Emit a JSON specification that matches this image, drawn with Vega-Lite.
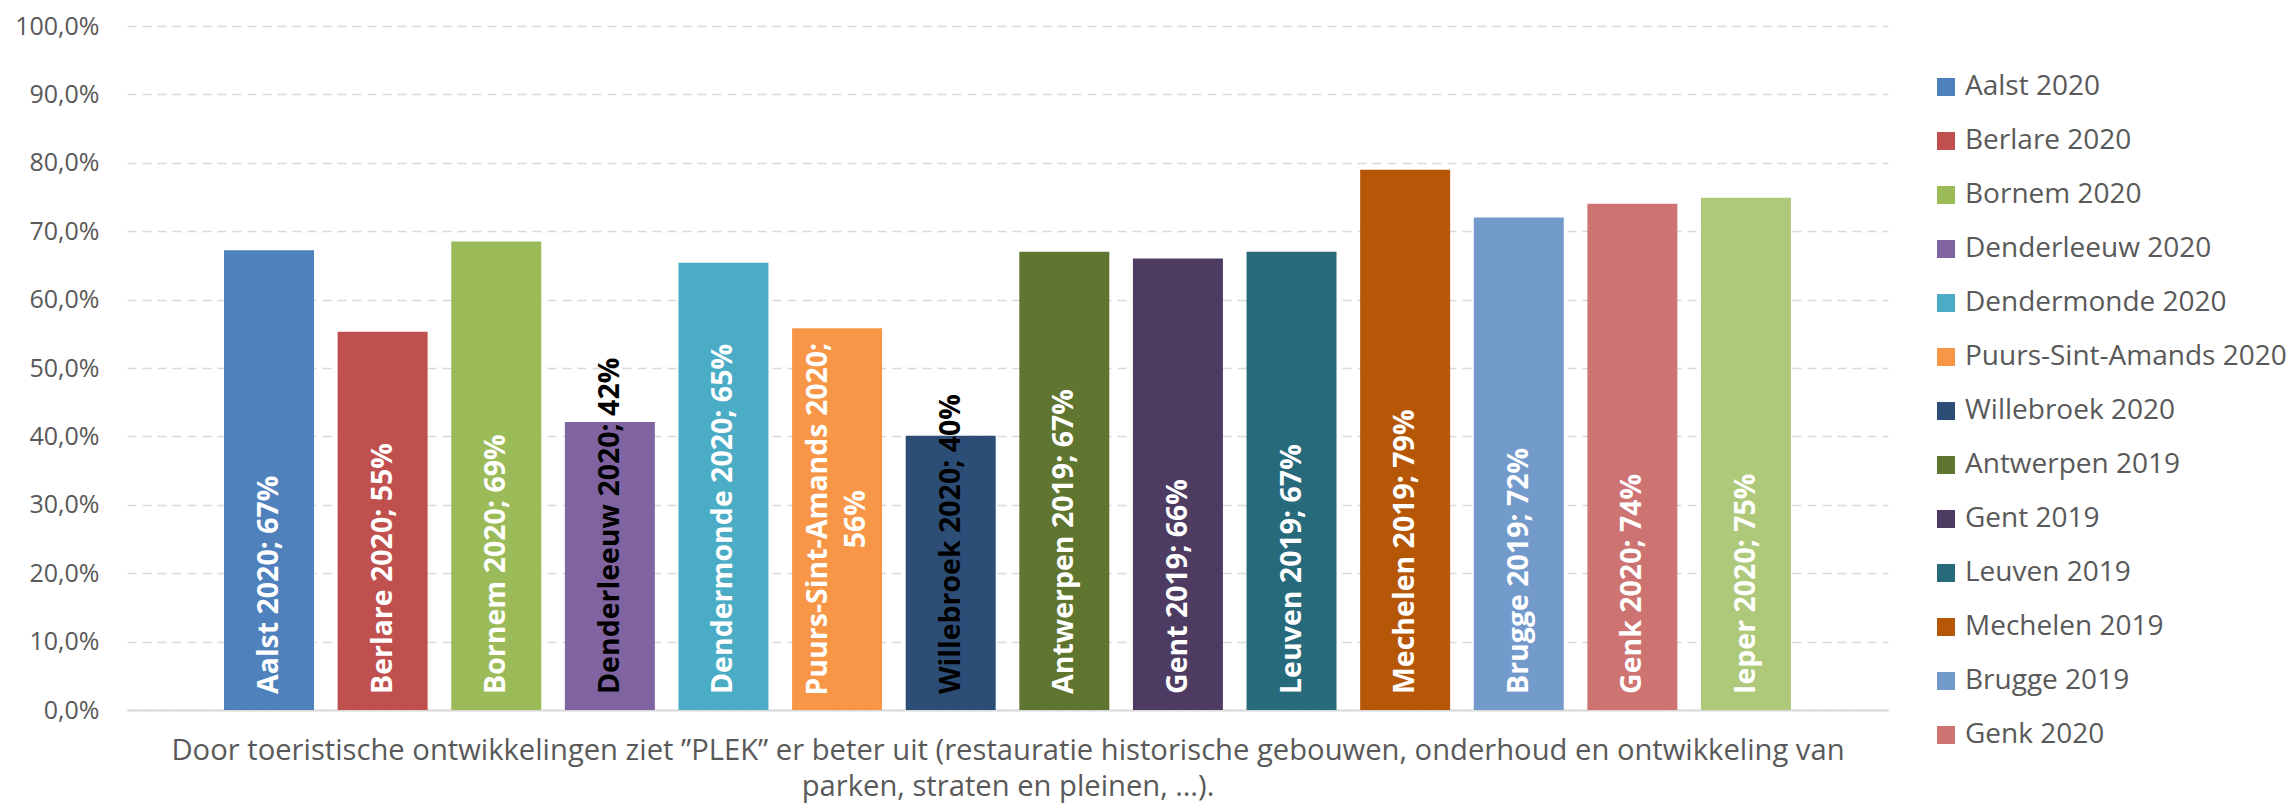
{
  "$schema": "https://vega.github.io/schema/vega-lite/v6.json",
  "width": 1761,
  "height": 684,
  "autosize": {"type": "none"},
  "padding": {"left": 127, "top": 26, "right": 405, "bottom": 95},
  "background": "white",
  "config": {"view": {"stroke": null}},
  "data": {
    "values": [
      {"name": "Aalst 2020", "value": 0.672, "label": "Aalst 2020; 67%"},
      {"name": "Berlare 2020", "value": 0.553, "label": "Berlare 2020; 55%"},
      {"name": "Bornem 2020", "value": 0.685, "label": "Bornem 2020; 69%"},
      {"name": "Denderleeuw 2020", "value": 0.421, "label": "Denderleeuw 2020; 42%"},
      {"name": "Dendermonde 2020", "value": 0.654, "label": "Dendermonde 2020; 65%"},
      {"name": "Puurs-Sint-Amands 2020", "value": 0.558, "label": "Puurs-Sint-Amands 2020;\n56%"},
      {"name": "Willebroek 2020", "value": 0.401, "label": "Willebroek 2020; 40%"},
      {"name": "Antwerpen 2019", "value": 0.670, "label": "Antwerpen 2019; 67%"},
      {"name": "Gent 2019", "value": 0.660, "label": "Gent 2019; 66%"},
      {"name": "Leuven 2019", "value": 0.670, "label": "Leuven 2019; 67%"},
      {"name": "Mechelen 2019", "value": 0.790, "label": "Mechelen 2019; 79%"},
      {"name": "Brugge 2019", "value": 0.720, "label": "Brugge 2019; 72%"},
      {"name": "Genk 2020", "value": 0.740, "label": "Genk 2020; 74%"},
      {"name": "Ieper 2020", "value": 0.749, "label": "Ieper 2020; 75%"}
    ]
  },
  "encoding": {
    "x": {
      "field": "name",
      "type": "nominal",
      "sort": null,
      "scale": {"paddingInner": 0.208, "paddingOuter": 0.854},
      "axis": {
        "labels": false,
        "ticks": false,
        "domainColor": "#d9d9d9",
        "domainWidth": 2,
        "title": ["Door toeristische ontwikkelingen ziet ”PLEK” er beter uit (restauratie historische gebouwen, onderhoud en ontwikkeling van", "parken, straten en pleinen, …)."],
        "titleFont": "Open Sans",
        "titleFontSize": 29.2,
        "titleFontWeight": "normal",
        "titleColor": "#595959",
        "titlePadding": 26,
        "titleLineHeight": 36
      }
    }
  },
  "layer": [
    {
      "mark": {"type": "bar"},
      "encoding": {
        "y": {
          "field": "value",
          "type": "quantitative",
          "scale": {"domain": [0, 1]},
          "axis": {
            "values": [0, 0.1, 0.2, 0.3, 0.4, 0.5, 0.6, 0.7, 0.8, 0.9, 1],
            "labelExpr": "replace(format(datum.value, '.1%'), '.', ',')",
            "domain": false,
            "ticks": false,
            "grid": true,
            "gridDash": [9, 6],
            "gridColor": "#d9d9d9",
            "gridWidth": 1.5,
            "labelFont": "Open Sans",
            "labelFontSize": 25,
            "labelColor": "#595959",
            "labelPadding": 28,
            "title": null
          }
        },
        "color": {
          "field": "name",
          "type": "nominal",
          "sort": null,
          "scale": {
            "domain": ["Aalst 2020", "Berlare 2020", "Bornem 2020", "Denderleeuw 2020", "Dendermonde 2020", "Puurs-Sint-Amands 2020", "Willebroek 2020", "Antwerpen 2019", "Gent 2019", "Leuven 2019", "Mechelen 2019", "Brugge 2019", "Genk 2020", "Ieper 2020"],
            "range": ["#4F81BD", "#C0504D", "#9BBB59", "#8064A2", "#4BACC6", "#F79646", "#2C4D75", "#5F7530", "#4D3B62", "#276A7C", "#B65708", "#729ACA", "#CD7371", "#AFC97A"]
          },
          "legend": {
            "values": ["Aalst 2020", "Berlare 2020", "Bornem 2020", "Denderleeuw 2020", "Dendermonde 2020", "Puurs-Sint-Amands 2020", "Willebroek 2020", "Antwerpen 2019", "Gent 2019", "Leuven 2019", "Mechelen 2019", "Brugge 2019", "Genk 2020"],
            "orient": "none",
            "legendX": 1805,
            "legendY": 47,
            "title": null,
            "padding": 0,
            "symbolType": "square",
            "symbolSize": 324,
            "symbolStrokeWidth": 0,
            "labelFont": "Open Sans",
            "labelFontSize": 28,
            "labelColor": "#595959",
            "labelOffset": 5,
            "labelLimit": 500,
            "rowPadding": 26
          }
        }
      }
    },
    {
      "transform": [{"filter": "indexof(datum.label, '\\n') < 0"}],
      "mark": {
        "type": "text",
        "angle": 270,
        "align": "left",
        "baseline": "middle",
        "dx": 16,
        "font": "Open Sans",
        "fontWeight": "bold",
        "fontSize": 28.5
      },
      "encoding": {
        "y": {"datum": 0, "type": "quantitative"},
        "text": {"field": "label"},
        "color": {"condition": {"test": "datum.value < 0.45", "value": "black"}, "value": "white"}
      }
    },
    {
      "transform": [
        {"filter": "indexof(datum.label, '\\n') >= 0"},
        {"calculate": "datum.value / 2", "as": "mid"}
      ],
      "mark": {
        "type": "text",
        "angle": 270,
        "align": "center",
        "baseline": "middle",
        "dy": -19,
        "font": "Open Sans",
        "fontWeight": "bold",
        "fontSize": 28.5,
        "lineBreak": "\n",
        "lineHeight": 38
      },
      "encoding": {
        "y": {"field": "mid", "type": "quantitative"},
        "text": {"field": "label"},
        "color": {"condition": {"test": "datum.value < 0.45", "value": "black"}, "value": "white"}
      }
    }
  ]
}
